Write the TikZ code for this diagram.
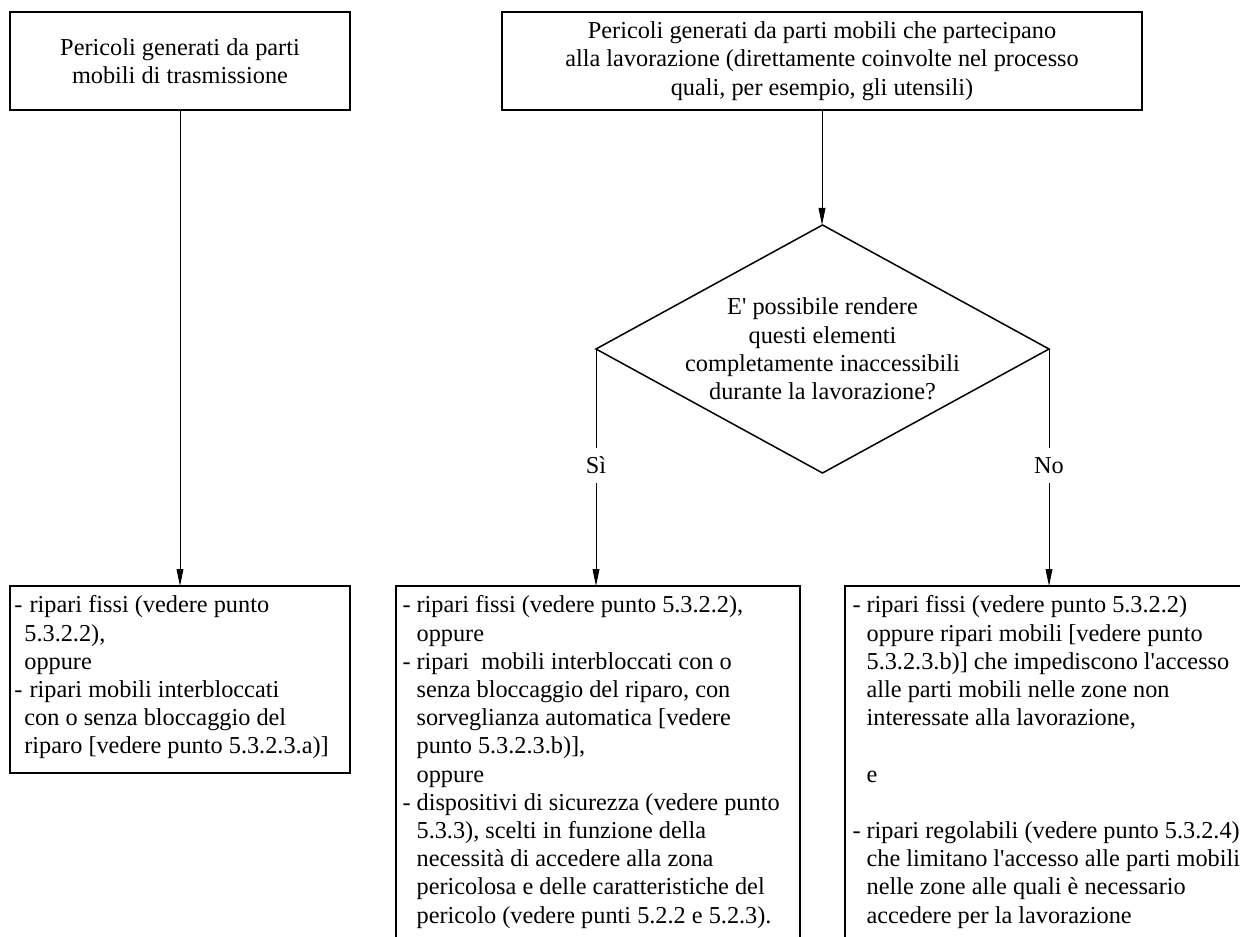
\documentclass[tikz,border=0pt]{standalone}
\usepackage{fontspec}
\setmainfont{Liberation Serif}
\usetikzlibrary{shapes.geometric,arrows.meta}
\newcommand\Ln[1]{\mbox{#1}\par}
\newcommand\Dsh[2]{\makebox[#1][l]{-}#2}
\newcommand\Ind[2]{\hspace*{#1}#2}
\newcommand\ap{\textquotesingle}
\tikzset{
  box/.style={draw, line width=0.9pt, rectangle, outer sep=0pt},
  diabox/.style={draw, line width=0.75pt, diamond, aspect=1.83, outer sep=0pt,
    inner sep=-12pt, minimum width=226.5pt, minimum height=124pt, align=center},
  lbl/.style={inner xsep=2pt, inner ysep=4.6pt, text height=8pt, text depth=0pt},
  arr/.style={line width=0.5pt, -{Triangle[length=8.5pt,width=3.4pt]}},
  conn/.style={line width=0.5pt}
}
\begin{document}
\begin{tikzpicture}[x=0.5pt, y=-0.5pt, font=\fontsize{12.15pt}{14.1pt}\selectfont]
\useasboundingbox (0,0) rectangle (1240,936);
\clip (0,0) rectangle (1240,936);

% top boxes
\node[box, minimum width=170pt, minimum height=49pt, align=center] (topL) at (180,61)
  {Pericoli generati da parti\\mobili di trasmissione};
\node[box, minimum width=320pt, minimum height=49pt, align=center] (topM) at (822,61)
  {Pericoli generati da parti mobili che partecipano\\alla lavorazione (direttamente coinvolte nel processo\\quali, per esempio, gli utensili)};

% decision
\node[diabox] (dia) at (822.5,349)
  {E\ap{} possibile rendere\\questi elementi\\completamente inaccessibili\\durante la lavorazione?};

% labels
\path (dia.west) ++(0,116.5) node[lbl] (si) {Sì};
\path (dia.east) ++(0,116.5) node[lbl] (no) {No};

% bottom boxes
\node[box, anchor=north west, inner xsep=2.2pt, inner ysep=3.6pt] (botL) at (10,586)
  {\parbox[b][86.3pt][t]{165.6pt}{\strut
   \Ln{\Dsh{7.6pt}{ripari fissi (vedere punto}}
   \Ln{\Ind{5pt}{5.3.2.2),}}
   \Ln{\Ind{5pt}{oppure}}
   \Ln{\Dsh{7.6pt}{ripari mobili interbloccati}}
   \Ln{\Ind{5pt}{con o senza bloccaggio del}}
   \Ln{\Ind{5pt}{riparo [vedere punto 5.3.2.3.a)]}}}};

\node[box, anchor=north west, inner xsep=3.3pt, inner ysep=3.6pt] (botM) at (396,586)
  {\parbox[b][190pt][t]{195.4pt}{\strut
   \Ln{\Dsh{7pt}{ripari fissi (vedere punto 5.3.2.2),}}
   \Ln{\Ind{7pt}{oppure}}
   \Ln{\Dsh{7pt}{ripari~ mobili interbloccati con o}}
   \Ln{\Ind{7pt}{senza bloccaggio del riparo, con}}
   \Ln{\Ind{7pt}{sorveglianza automatica [vedere}}
   \Ln{\Ind{7pt}{punto 5.3.2.3.b)],}}
   \Ln{\Ind{7pt}{oppure}}
   \Ln{\Dsh{7pt}{dispositivi di sicurezza (vedere punto}}
   \Ln{\Ind{7pt}{5.3.3), scelti in funzione della}}
   \Ln{\Ind{7pt}{necessità di accedere alla zona}}
   \Ln{\Ind{7pt}{pericolosa e delle caratteristiche del}}
   \Ln{\Ind{7pt}{pericolo (vedere punti 5.2.2 e 5.2.3).}}}};

\node[box, anchor=north west, inner xsep=3.8pt, inner ysep=3.6pt] (botR) at (845,586)
  {\parbox[b][190pt][t]{199.9pt}{\strut
   \Ln{\Dsh{7pt}{ripari fissi (vedere punto 5.3.2.2)}}
   \Ln{\Ind{7pt}{oppure ripari mobili [vedere punto}}
   \Ln{\Ind{7pt}{5.3.2.3.b)] che impediscono l\ap accesso}}
   \Ln{\Ind{7pt}{alle parti mobili nelle zone non}}
   \Ln{\Ind{7pt}{interessate alla lavorazione,}}
   \Ln{}
   \Ln{\Ind{7pt}{e}}
   \Ln{}
   \Ln{\Dsh{7pt}{ripari regolabili (vedere punto 5.3.2.4)}}
   \Ln{\Ind{7pt}{che limitano l\ap accesso alle parti mobili}}
   \Ln{\Ind{7pt}{nelle zone alle quali è necessario}}
   \Ln{\Ind{7pt}{accedere per la lavorazione}}}};

% connectors
\draw[arr] (topL.south) -- (topL.south |- botL.north);
\draw[arr] (topM.south) -- (topM.south |- dia.north);
\draw[conn] (dia.west) -- (si.north);
\draw[arr] (si.south) -- (si.south |- botM.north);
\draw[conn] (dia.east) -- (no.north);
\draw[arr] (no.south) -- (no.south |- botR.north);
\end{tikzpicture}
\end{document}
